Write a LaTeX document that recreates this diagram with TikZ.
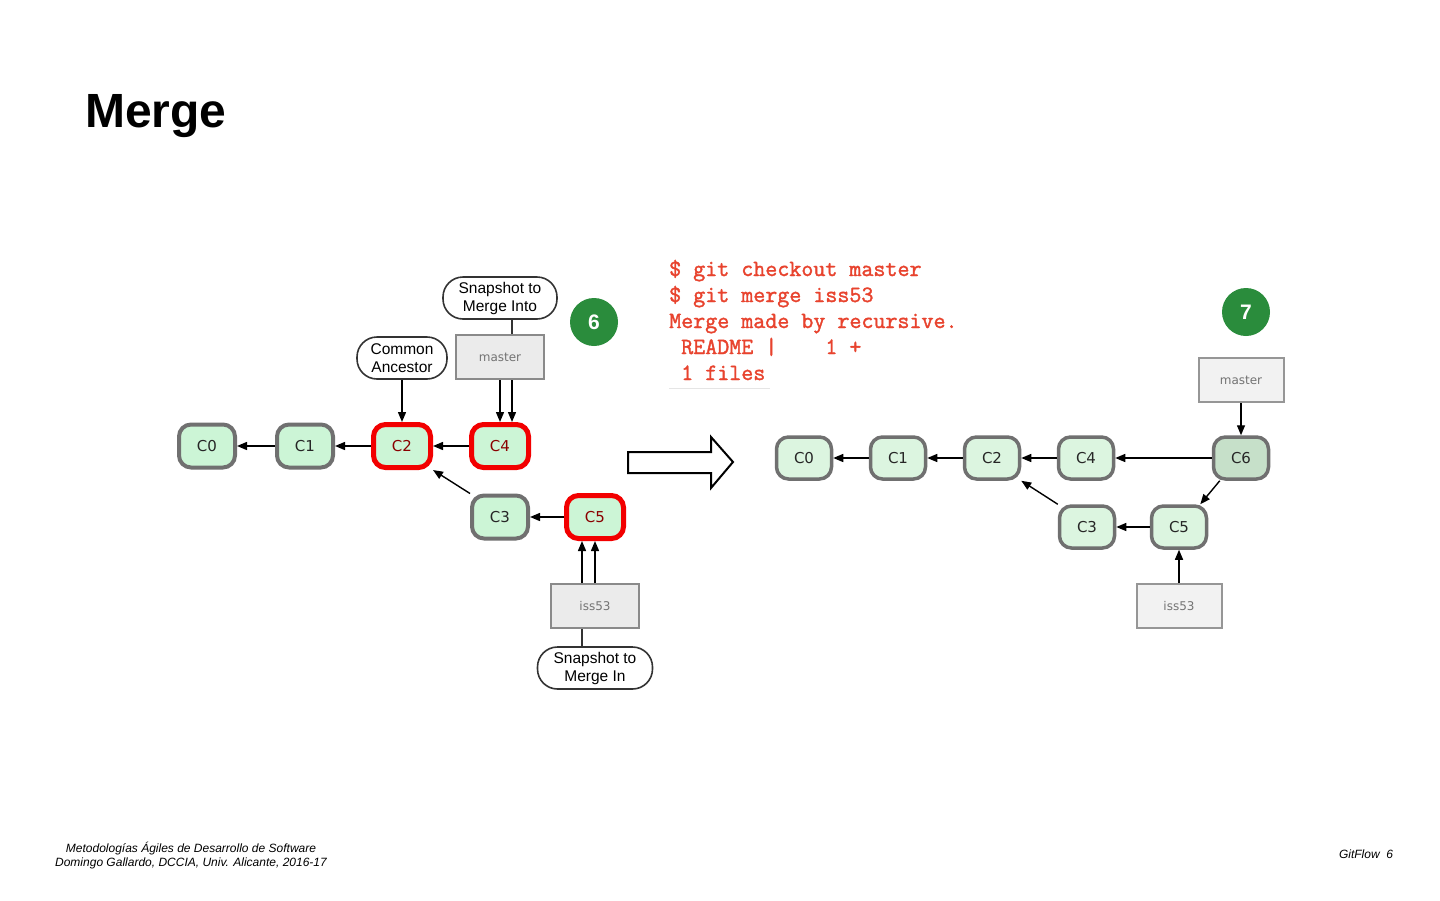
\documentclass[tikz,border=0pt]{standalone}
\usepackage{fontspec}
\setmainfont{Liberation Sans}
\newfontfamily\codefont[FakeBold=1.6]{Latin Modern Mono}
\newfontfamily\lucfont{DejaVu Sans}
\usetikzlibrary{arrows.meta}
\definecolor{cfillL}{HTML}{CCF5D6}
\definecolor{cfillR}{HTML}{DCF5E0}
\definecolor{cfillSix}{HTML}{C6E0C9}
\definecolor{cgray}{HTML}{707070}
\definecolor{cred}{HTML}{F20000}
\definecolor{cdarkred}{HTML}{8A0000}
\definecolor{cbranch}{HTML}{8A8A8A}
\definecolor{cbfill}{HTML}{EBEBEB}
\definecolor{cbfillR}{HTML}{F2F2F2}
\definecolor{cgreen}{HTML}{2A8C3C}
\definecolor{ccode}{HTML}{E8432E}
\newcommand\msp{\hphantom{0}}
\begin{document}
\begin{tikzpicture}[x=1pt,y=-1pt,
  commitL/.style={draw=cgray, line width=4pt, fill=cfillL, rounded corners=12pt,
    minimum width=56pt, minimum height=43pt, inner sep=0pt,
    font=\lucfont\fontsize{15}{18}\selectfont, text=black!85},
  redC/.style={commitL, draw=cred, line width=5pt, minimum width=57pt, text=cdarkred},
  commitR/.style={commitL, line width=3.5pt, fill=cfillR, minimum width=55pt, minimum height=42pt},
  branch/.style={draw=cbranch, line width=2pt, fill=cbfill, minimum width=88pt,
    minimum height=44pt, inner sep=0pt, font=\lucfont\fontsize{12}{14}\selectfont, text=black!55},
  branchR/.style={branch, fill=cbfillR, draw=cbranch!90, minimum width=85pt},
  callout/.style={draw=black!80, line width=1.6pt, fill=white, rounded corners=20pt,
    minimum width=114pt, minimum height=42pt, align=center, inner sep=0pt,
    font=\fontsize{15.5}{18}\selectfont},
  num/.style={circle, fill=cgreen, minimum size=48pt, inner sep=0pt, text=white,
    font=\bfseries\fontsize{21}{21}\selectfont},
  arr/.style={-{Triangle[length=10pt,width=8pt]}, line width=1.4pt, black},
  link/.style={line width=1.4pt, black!80},
  code/.style={anchor=base west, inner sep=0pt, text=ccode,
    font=\codefont\fontsize{23.33}{26}\selectfont},
  foot/.style={inner sep=0pt, anchor=base, font=\itshape\fontsize{12}{14}\selectfont}
]
\useasboundingbox[fill=white] (0,0) rectangle (1440,900);

% title
\node[anchor=base west, inner sep=0pt, font=\bfseries\fontsize{48}{56}\selectfont] (title) at (85,127) {Merge};

% ---------- left diagram ----------
\node[commitL] (a0) at (207,446) {C0};
\node[commitL] (a1) at (305,446) {C1};
\node[redC]    (a2) at (402,446) {C2};
\node[redC]    (a4) at (500,446) {C4};
\node[commitL] (a3) at (500,517) {C3};
\node[redC]    (a5) at (595,517) {C5};

\node[branch] (amaster) at (500,357) {master};
\node[branch] (aiss) at (595,606) {iss53};

\node[callout] (into) at (500,298) {Snapshot to\\Merge Into};
\node[callout, minimum width=90pt] (anc) at (402,358) {Common\\Ancestor};
\node[callout, minimum width=115pt] (in) at (595,668) {Snapshot to\\Merge In};

\node[num] (six) at (594,322) {6};

\draw[arr] (a1.west) -- (a0.east);
\draw[arr] (a2.west) -- (a1.east);
\draw[arr] (a4.west) -- (a2.east);
\draw[arr] (a5.west) -- (a3.east);
\draw[arr] (a3.north west) -- (a2.south east);
\draw[arr] (anc.south) -- (a2.north);
\draw[arr] (amaster.south) -- (a4.north);
\draw[arr] ([xshift=12pt]amaster.south) -- ([xshift=12pt]a4.north);
\draw[link] ([xshift=12pt]into.south) -- ([xshift=12pt]amaster.north);
\draw[arr] (aiss.north) -- (a5.south);
\draw[arr] ([xshift=-13pt]aiss.north) -- ([xshift=-13pt]a5.south);
\draw[link] ([xshift=-13pt]in.north) -- ([xshift=-13pt]aiss.south);

% big hollow arrow
\draw[line width=2pt, fill=white] (628,452) -- (711,452) -- (711,437) -- (733,462)
  -- (711,488) -- (711,473) -- (628,473) -- cycle;

% ---------- code ----------
\node[code] (l1) at (669,276) {\$\msp git\msp checkout\msp master};
\node[code] (l2) at (669,302) {\$\msp git\msp merge\msp iss53};
\node[code] (l3) at (669,328) {Merge\msp made\msp by\msp recursive.};
\node[code] (l4) at (669,354) {\msp README\msp|\msp\msp\msp\msp 1\msp +};
\node[code] (l5) at (669,380) {\msp 1\msp files};
\draw[black!10, line width=1pt] (669,388) -- (770,388);

% ---------- right diagram ----------
\node[commitR] (b0) at (804,458) {C0};
\node[commitR] (b1) at (898,458) {C1};
\node[commitR] (b2) at (992,458) {C2};
\node[commitR] (b4) at (1086,458) {C4};
\node[commitR, fill=cfillSix] (b6) at (1241,458) {C6};
\node[commitR] (b3) at (1087,527) {C3};
\node[commitR] (b5) at (1179,527) {C5};

\node[branchR] (bmaster) at (1241,380) {master};
\node[branchR] (biss) at (1179,606) {iss53};
\node[num] (seven) at (1246,312) {7};

\draw[arr] (b1.west) -- (b0.east);
\draw[arr] (b2.west) -- (b1.east);
\draw[arr] (b4.west) -- (b2.east);
\draw[arr] (b6.west) -- (b4.east);
\draw[arr] (b5.west) -- (b3.east);
\draw[arr] (b3.north west) -- (b2.south east);
\draw[arr] ([xshift=8pt]b6.south west) -- ([xshift=-8pt]b5.north east);
\draw[arr] (bmaster.south) -- (b6.north);
\draw[arr] (biss.north) -- (b5.south);

% ---------- footer ----------
\node[foot] (f1) at (191,852) {Metodologías Ágiles de Desarrollo de Software};
\node[foot] (f2) at (191,866) {Domingo Gallardo, DCCIA, Univ. Alicante, 2016-17};
\node[foot] (f3) at (1366,858) {GitFlow\ \ 6};
\end{tikzpicture}
\end{document}
